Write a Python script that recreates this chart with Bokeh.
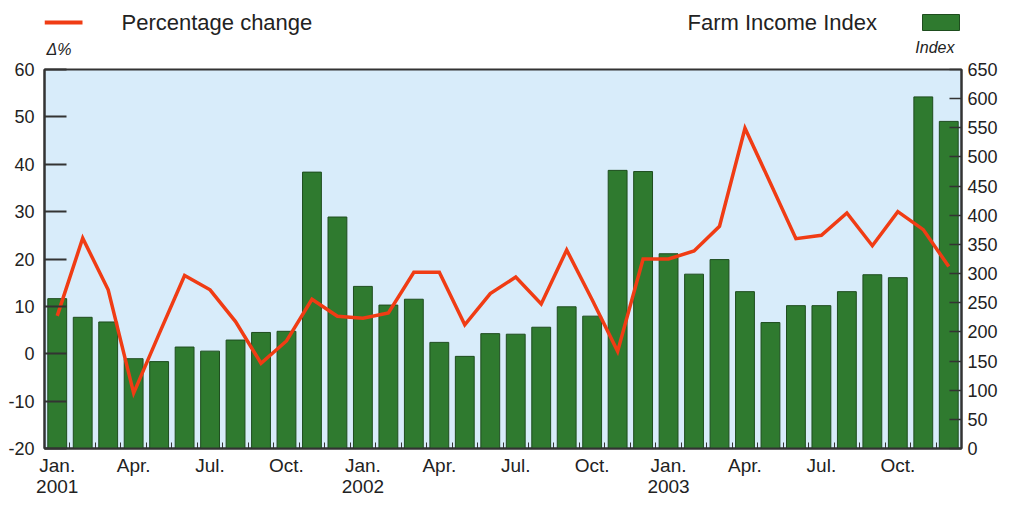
from bokeh.plotting import figure
from bokeh.models import Range1d, LinearAxis, FixedTicker, Label
from bokeh.layouts import column
from bokeh.embed import file_html
from bokeh.resources import INLINE

# ---- data ----
months = list(range(36))  # Jan 2001 .. Dec 2003
month_names = ["Jan.", "Apr.", "Jul.", "Oct."]
years = ["2001", "2002", "2003"]
pct_change = [8.0, 24.4, 13.5, -8.3, 4.2, 16.5, 13.5, 6.8, -2.0, 2.7, 11.5, 7.9,
              7.5, 8.6, 17.2, 17.2, 6.1, 12.7, 16.2, 10.5, 21.9, 11.4, 0.5, 20.0,
              20.0, 21.7, 26.9, 47.6, 36.0, 24.3, 25.0, 29.7, 22.8, 30.0, 26.2, 18.4]
farm_index = [257, 225, 217, 154, 149, 174, 167, 186, 199, 201, 474, 397,
              278, 246, 256, 182, 158, 197, 196, 208, 243, 227, 477, 475,
              334, 299, 324, 269, 216, 245, 245, 269, 298, 293, 603, 561]
left_ticks = [-20, -10, 0, 10, 20, 30, 40, 50, 60]
right_ticks = list(range(0, 651, 50))

FONT = "Liberation Sans"
TXT = "#222222"
RED = "#f03c14"
GREEN = "#2f7a2f"

FW = 917   # frame width
H1 = 58

# ---- legend strip (frame aligned with the chart frame; x = page x - 8) ----
lg = figure(frame_width=FW, frame_height=H1, x_range=Range1d(37, 954), y_range=Range1d(0, H1),
            output_backend="svg", toolbar_location=None,
            min_border_left=37, min_border_right=40, min_border_top=0, min_border_bottom=0)
lg.axis.visible = False
lg.grid.visible = False
lg.outline_line_color = None
lg.line(x=[37, 75], y=[36, 36], line_color=RED, line_width=4)
lg.quad(left=[915], right=[952], bottom=[28], top=[44], fill_color=GREEN, line_color="#1e4d1e")
lg.add_layout(Label(x=114, y=36, text="Percentage change", text_font=FONT, text_font_size="22px",
                    text_color=TXT, text_baseline="middle"))
lg.add_layout(Label(x=680, y=36, text="Farm Income Index", text_font=FONT, text_font_size="22px",
                    text_color=TXT, text_baseline="middle"))
lg.add_layout(Label(x=39, y=9, text="\u0394%", text_font=FONT, text_font_size="16px",
                    text_font_style="italic", text_color=TXT, text_baseline="middle"))
lg.add_layout(Label(x=947, y=11, text="Index", text_font=FONT, text_font_size="16px",
                    text_font_style="italic", text_color=TXT, text_baseline="middle", text_align="right"))

# ---- main chart ----
p = figure(frame_width=FW, frame_height=379, x_range=Range1d(-0.5, 35.5), y_range=Range1d(-20, 60),
           output_backend="svg", toolbar_location=None,
           min_border_left=37, min_border_right=40, min_border_top=11, min_border_bottom=0)
p.extra_y_ranges = {"idx": Range1d(0, 650)}
p.background_fill_color = "#d8ecfa"
p.border_fill_color = "white"
p.outline_line_color = "#333333"
p.outline_line_width = 2
p.grid.visible = False

p.vbar(x=months, top=farm_index, bottom=0, width=0.74, y_range_name="idx",
       fill_color=GREEN, line_color="#1e4d1e", line_width=1)
p.line(x=months, y=pct_change, line_color=RED, line_width=3.5, line_join="miter")

# left axis
ya = p.yaxis[0]
ya.ticker = FixedTicker(ticks=left_ticks)
ya.major_label_overrides = {t: str(t) for t in left_ticks}
ya.major_tick_in = 22
ya.major_tick_out = 0
ya.minor_tick_line_color = None
ya.minor_tick_in = 0
ya.minor_tick_out = 0
ya.major_tick_line_color = "#333333"
ya.major_tick_line_width = 2
ya.axis_line_color = "#333333"
ya.axis_line_width = 2
ya.major_label_standoff = 10
ya.major_label_text_font = FONT
ya.major_label_text_font_size = "18px"
ya.major_label_text_color = TXT

# right axis
ra = LinearAxis(y_range_name="idx", ticker=FixedTicker(ticks=right_ticks))
ra.major_tick_in = 12
ra.major_tick_out = 0
ra.minor_tick_line_color = None
ra.minor_tick_in = 0
ra.minor_tick_out = 0
ra.major_tick_line_color = "#333333"
ra.major_tick_line_width = 1.5
ra.axis_line_color = "#333333"
ra.axis_line_width = 2
ra.major_label_standoff = 6
ra.major_label_text_font = FONT
ra.major_label_text_font_size = "18px"
ra.major_label_text_color = TXT
p.add_layout(ra, "right")

# bottom axis: months
label_pos = [0, 3, 6, 9, 12, 15, 18, 21, 24, 27, 30, 33]
xa = p.xaxis[0]
xa.ticker = FixedTicker(ticks=label_pos, minor_ticks=[m + 0.5 for m in months[:-1]])
xa.major_label_overrides = {pos: month_names[i % 4] for i, pos in enumerate(label_pos)}
xa.major_tick_line_color = None
xa.major_tick_in = 0
xa.major_tick_out = 0
xa.minor_tick_in = 6
xa.minor_tick_out = 0
xa.minor_tick_line_color = "#333333"
xa.axis_line_color = "#333333"
xa.axis_line_width = 2
xa.major_label_standoff = 6
xa.major_label_text_font = FONT
xa.major_label_text_font_size = "19px"
xa.major_label_text_color = TXT

# bottom axis: years
year_pos = [0, 12, 24]
xb = LinearAxis(ticker=FixedTicker(ticks=year_pos))
xb.major_label_overrides = {pos: years[i] for i, pos in enumerate(year_pos)}
xb.major_tick_line_color = None
xb.major_tick_in = 0
xb.major_tick_out = 0
xb.minor_tick_line_color = None
xb.minor_tick_in = 0
xb.minor_tick_out = 0
xb.axis_line_color = None
xb.major_label_standoff = 1
xb.major_label_text_font = FONT
xb.major_label_text_font_size = "19px"
xb.major_label_text_color = TXT
p.add_layout(xb, "below")

layout = column(lg, p, spacing=0, margin=(0, 0, 0, 5))
open("out.html", "w").write(file_html(layout, INLINE))
